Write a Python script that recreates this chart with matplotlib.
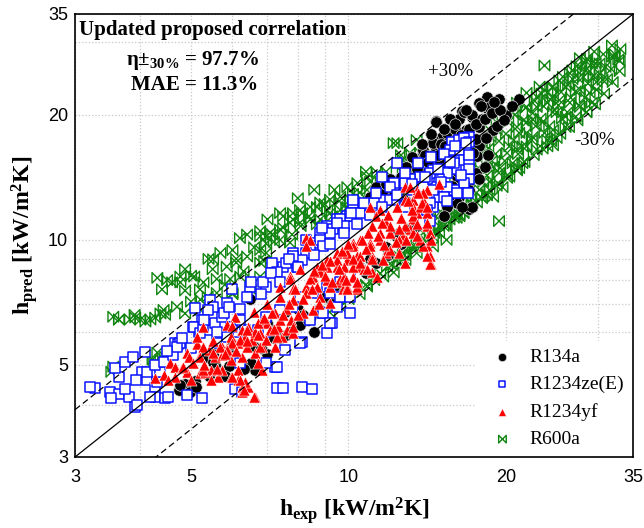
import matplotlib
matplotlib.use('Agg')
import matplotlib.pyplot as plt
from matplotlib.path import Path
from matplotlib.ticker import FixedLocator, NullFormatter

plt.rcParams.update({
    'font.family': 'Liberation Serif',
    'mathtext.fontset': 'custom',
    'mathtext.rm': 'Liberation Serif:bold',
    'mathtext.it': 'Liberation Serif:italic:bold',
    'mathtext.bf': 'Liberation Serif:bold',
})

# ---------- data: (h_exp, h_pred) in kW/m2K ----------
r134a_pts = [
    (18.4, 22.1), (19.4, 21.8), (21.2, 21.9), (17.8, 21.4), (16.5, 20.4), (14.7, 19.3),
    (18.4, 20.8), (20.0, 20.0), (16.3, 19.5), (15.6, 19.5), (17.2, 19.8), (17.8, 18.7),
    (16.8, 18.4), (15.8, 18.1), (15.1, 17.7), (14.5, 17.4), (14.7, 16.5), (13.9, 16.2),
    (13.5, 15.3), (12.9, 15.0), (13.3, 14.2), (12.5, 14.0), (12.0, 13.2), (11.6, 13.0),
    (17.0, 16.5), (17.8, 16.8), (18.4, 17.7), (18.9, 18.4), (17.6, 15.9), (16.6, 15.0),
    (16.1, 14.2), (16.9, 13.7), (16.3, 12.7), (16.1, 12.3), (17.0, 11.9), (17.2, 12.0),
    (15.4, 12.0), (18.6, 20.9), (16.6, 20.3), (17.2, 20.0), (14.7, 19.2), (15.4, 18.1),
    (16.1, 17.7), (14.5, 17.1), (13.9, 16.5), (13.7, 15.3), (14.3, 15.9), (14.9, 15.6),
    (15.2, 11.4), (11.0, 12.7), (11.3, 13.4), (12.0, 14.0), (12.7, 13.2), (10.5, 11.8),
    (10.1, 11.6), (14.0, 16.0), (15.0, 17.0), (16.0, 18.5), (17.5, 17.5), (18.0, 19.5),
    (16.5, 16.0), (15.5, 15.0), (14.0, 14.5), (15.8, 13.5), (17.5, 14.5), (18.5, 16.0),
    (13.0, 13.8), (12.2, 12.8), (11.5, 12.2), (13.5, 14.8), (14.2, 15.4), (14.8, 16.0),
    (15.3, 16.8), (15.9, 17.3), (16.4, 17.9), (17.0, 18.5), (17.5, 19.0), (18.2, 19.6),
    (18.8, 20.2), (19.5, 20.6), (20.5, 21.0), (16.0, 19.0), (16.8, 20.5), (17.9, 21.0),
    (19.0, 21.5), (15.2, 18.5), (14.4, 18.0), (13.8, 17.0), (17.3, 16.2), (18.3, 17.6),
    (19.2, 18.8), (19.8, 19.4), (16.2, 14.6), (17.0, 13.2), (17.8, 14.0), (18.2, 15.0),
    (15.6, 12.8), (16.5, 12.0), (13.2, 15.8), (12.6, 14.2), (11.8, 13.6), (12.8, 12.5),
    (4.87, 4.5), (5.05, 4.43), (5.09, 4.57), (4.75, 4.35), (5.32, 5.23), (5.56, 5.0),
    (5.9, 5.35), (6.2, 5.1), (6.63, 4.85), (6.5, 5.05), (6.63, 5.53), (7.0, 5.3),
    (7.56, 6.7), (8.08, 6.25), (8.35, 6.4), (8.6, 6.0), (4.77, 4.48), (4.98, 4.31),
    (5.12, 4.42), (5.5, 5.09), (5.9, 4.97), (7.08, 6.1), (7.4, 5.8), (7.73, 6.0),
    (8.0, 6.8), (8.45, 6.5), (6.49, 7.2), (12.5, 10.4), (13.5, 10.8), (9.0, 7.3),
    (9.5, 7.8), (10.0, 8.2), (10.5, 8.6), (11.0, 9.0), (11.8, 9.6), (12.3, 10.2),
    (13.0, 10.6), (7.0, 6.3), (6.0, 5.6), (5.5, 5.3), (5.4, 4.7), (5.8, 4.7), (6.3, 4.9),
    (6.8, 5.5), (7.2, 5.8), (7.6, 5.9), (8.2, 6.6), (8.8, 6.8), (9.3, 7.0), (9.8, 7.5),
    (10.3, 7.8), (10.8, 8.3), (11.3, 8.8), (11.9, 9.2), (12.6, 9.8),
]

r1234ze_pts = [
    (3.27, 4.4), (3.5, 4.31), (3.64, 4.25), (3.8, 4.19), (3.52, 4.17), (3.74, 4.37),
    (3.91, 3.96), (3.94, 4.0), (3.64, 4.68), (3.58, 4.92), (3.74, 5.09), (3.87, 5.23),
    (4.09, 5.38), (4.02, 4.81), (3.93, 4.6), (4.11, 4.6), (4.27, 4.4), (4.31, 4.55),
    (4.27, 4.19), (4.18, 4.19), (4.46, 4.17), (4.52, 4.19), (4.91, 4.23), (5.24, 4.17),
    (4.11, 4.81), (4.37, 4.81), (4.27, 5.0), (4.43, 5.09), (4.62, 5.29), (4.66, 5.66),
    (4.73, 5.6), (5.05, 6.18), (5.17, 6.0), (5.25, 6.43), (5.4, 6.08), (5.56, 6.32),
    (5.72, 6.53), (5.09, 6.86), (5.97, 6.18), (6.15, 6.0), (6.34, 6.08), (7.24, 4.95),
    (7.56, 5.44), (8.15, 5.69), (8.9, 6.65), (9.3, 6.32), (7.3, 4.4), (7.5, 4.4),
    (8.15, 4.43), (8.5, 4.37), (6.07, 4.37), (6.26, 4.29), (6.93, 6.0), (3.2, 4.43),
    (7.15, 8.82), (7.5, 8.62), (7.83, 9.3), (8.55, 9.85), (8.83, 10.4), (9.1, 10.8),
    (9.5, 11.2), (9.95, 11.4), (10.2, 12.3), (6.49, 7.72), (6.0, 7.6), (6.4, 7.3),
    (5.85, 7.05), (5.44, 7.18), (5.51, 6.9), (5.38, 6.78), (5.78, 6.65), (5.07, 6.18),
    (5.21, 5.97), (5.28, 6.18), (4.77, 5.66), (4.71, 5.53), (5.6, 5.66), (5.85, 5.85),
    (6.0, 6.18), (6.21, 6.43), (6.7, 6.08), (6.96, 6.53), (7.4, 6.78), (7.83, 6.9),
    (8.08, 7.3), (8.55, 7.45), (9.1, 7.72), (9.64, 7.9), (10.07, 7.72), (10.07, 8.16),
    (9.5, 6.9), (8.95, 6.65), (8.45, 6.43), (10.07, 6.65), (9.1, 5.97), (9.22, 6.32),
    (8.08, 5.66), (7.3, 4.95), (6.21, 5.04), (6.96, 5.04),
    (12.4, 15.3), (17.0, 17.7), (16.8, 16.8), (16.3, 15.9), (15.8, 16.4), (15.6, 15.0),
    (16.1, 14.8), (16.8, 15.0), (17.0, 14.0), (16.6, 13.4), (16.3, 13.0), (15.4, 14.5),
    (14.9, 14.0), (14.5, 14.75), (15.2, 13.4), (14.5, 13.4), (14.1, 12.5), (14.5, 12.0),
    (14.9, 12.7), (13.7, 14.2), (13.1, 14.0), (12.85, 13.4), (14.1, 11.8), (13.9, 11.0),
    (12.85, 12.0), (12.2, 12.5), (11.85, 12.5), (11.5, 12.5), (11.2, 12.3), (10.5, 11.6),
    (10.2, 12.5), (10.07, 11.4), (9.64, 11.2), (9.8, 10.8), (9.35, 10.6), (9.22, 10.4),
    (8.83, 10.0), (8.95, 9.64), (8.45, 9.64), (8.3, 9.3), (8.15, 8.95), (7.83, 9.12),
    (7.97, 8.62), (7.6, 8.82), (7.3, 8.35), (6.96, 7.72), (6.85, 7.9), (9.22, 7.45),
    (9.64, 7.3), (10.07, 7.3), (15.8, 17.2), (16.3, 17.4), (16.6, 17.6), (17.0, 17.2),
    (16.3, 16.5), (15.6, 16.5), (16.6, 15.6), (15.9, 15.3), (17.0, 15.6), (17.0, 14.8),
    (16.6, 13.7), (15.9, 13.2), (15.4, 13.4), (14.3, 14.5), (14.1, 14.0), (13.9, 13.4),
    (14.5, 13.2), (15.2, 12.7), (16.1, 13.0), (14.3, 12.3), (14.1, 11.8), (14.3, 11.1),
    (13.3, 13.2), (12.85, 13.7), (12.2, 13.7), (11.6, 14.2),
    (4.5, 5.4), (4.8, 5.8), (5.0, 5.5), (5.3, 6.4), (5.6, 6.0), (5.9, 6.9), (6.2, 6.8),
    (6.5, 7.9), (6.8, 7.4), (7.1, 8.3), (7.4, 7.9), (7.7, 9.0), (8.0, 8.6), (8.3, 10.0),
    (8.6, 9.2), (8.9, 10.7), (9.2, 9.8), (9.5, 11.0), (9.8, 10.4), (10.1, 11.6),
    (10.4, 10.9), (10.7, 12.3), (11.0, 11.5), (11.3, 13.0), (11.6, 12.0), (12.0, 13.4),
    (12.4, 12.8), (12.8, 14.5), (13.2, 13.6), (13.6, 15.3), (14.0, 14.2), (14.4, 15.8),
    (14.8, 14.8), (15.2, 16.1), (15.6, 15.4), (16.0, 16.8), (16.4, 14.3), (16.8, 17.1),
    (17.0, 16.0), (16.9, 13.0), (15.0, 13.8), (15.4, 12.4),
]

r1234yf_pts = [
    (4.27, 4.65), (4.43, 4.72), (4.56, 5.06), (4.66, 4.95), (4.8, 4.92), (4.92, 4.81),
    (5.21, 4.78), (5.32, 4.81), (5.47, 4.86), (4.91, 5.35), (4.95, 5.23), (5.17, 5.23),
    (5.14, 5.6), (5.4, 5.44), (5.56, 5.23), (5.72, 5.29), (5.72, 5.53), (5.87, 5.5),
    (5.97, 5.85), (5.87, 6.25), (6.07, 6.53), (6.26, 6.08), (6.42, 6.18), (6.34, 5.85),
    (6.15, 5.66), (6.55, 5.75), (6.63, 6.01), (6.84, 6.43), (7.0, 6.32), (7.24, 6.68),
    (7.33, 6.18), (7.46, 5.85), (7.63, 6.08), (7.77, 6.43), (7.24, 5.53), (6.84, 5.53),
    (6.63, 5.35), (6.26, 5.23), (5.97, 5.15), (5.97, 4.68), (6.15, 4.6), (6.26, 4.43),
    (6.42, 4.43), (6.63, 4.19), (6.26, 4.29), (6.34, 4.55), (6.15, 4.86), (5.63, 4.68),
    (5.47, 4.6), (5.72, 4.86), (5.28, 4.86), (4.66, 4.68), (4.52, 4.6), (6.84, 4.86),
    (8.3, 10.1), (8.08, 8.5), (7.73, 8.2), (8.3, 7.72), (8.55, 8.16), (8.7, 8.62),
    (9.1, 8.95), (9.5, 9.3), (9.95, 9.64), (10.2, 9.85), (9.5, 8.62), (9.95, 8.95),
    (9.64, 7.9), (9.1, 8.0), (8.83, 7.3), (9.22, 7.05), (9.77, 7.6), (10.2, 8.16),
    (10.4, 8.62), (10.4, 7.6), (7.83, 7.18), (7.6, 6.8), (7.4, 6.43), (7.15, 6.68),
    (7.08, 6.08), (6.78, 5.97), (6.7, 6.3), (6.4, 6.08), (6.21, 5.75), (6.0, 5.66),
    (5.85, 5.44), (5.69, 5.53), (5.51, 5.35), (5.28, 5.53), (5.21, 5.23), (6.4, 5.53),
    (6.78, 5.53), (6.96, 5.75), (7.3, 5.85), (7.83, 5.97), (7.83, 6.18), (8.2, 6.65),
    (8.55, 6.78), (6.7, 5.06), (6.21, 4.6), (6.3, 4.35), (6.6, 4.19), (6.0, 4.68),
    (5.28, 6.18), (5.14, 5.85), (5.05, 5.06), (4.82, 4.95),
    (12.85, 13.4), (13.5, 13.2), (14.1, 13.2), (13.9, 12.5), (13.3, 12.5), (13.3, 12.0),
    (13.5, 11.6), (14.1, 11.6), (14.1, 10.8), (14.3, 10.4), (13.3, 11.2), (13.1, 10.6),
    (12.7, 10.2), (14.1, 9.64), (14.3, 9.12), (14.4, 8.75), (12.85, 8.8), (12.5, 10.0),
    (12.0, 10.4), (11.8, 11.0), (11.5, 11.8), (11.3, 11.4), (11.1, 10.8), (11.0, 12.0),
    (11.5, 10.4), (11.0, 9.85), (10.5, 10.0), (10.2, 9.64), (10.4, 9.12), (9.95, 9.3),
    (11.1, 9.12), (11.8, 9.3), (10.7, 8.5), (11.1, 8.35), (10.2, 8.16), (9.8, 8.62),
    (9.5, 8.95), (9.1, 8.62), (8.83, 8.35), (9.64, 8.05), (9.95, 7.72), (10.4, 7.72),
    (9.22, 7.72), (8.7, 7.72), (8.45, 8.05), (8.3, 7.45), (7.73, 8.05), (7.83, 7.6),
    (7.4, 7.72), (8.45, 10.0), (8.3, 9.64), (14.3, 8.75), (14.1, 9.12), (13.9, 9.64),
    (13.7, 10.0), (13.3, 10.4), (12.85, 10.8), (12.85, 8.8), (12.5, 9.3), (12.0, 9.45),
    (11.65, 8.95), (11.35, 8.16), (10.85, 8.5), (10.4, 7.9), (9.95, 7.6), (9.8, 8.16),
    (10.2, 8.62), (10.5, 9.12), (11.0, 9.64), (11.5, 10.0), (12.0, 10.4), (12.5, 10.0),
    (13.1, 13.4), (13.9, 13.0), (12.85, 12.5), (13.7, 12.0), (13.3, 11.4), (14.1, 11.0),
    (12.5, 10.6), (13.5, 10.2), (14.9, 13.6),
    (5.0, 4.6), (5.3, 5.0), (5.6, 4.9), (5.8, 5.3), (6.1, 5.4), (6.4, 5.7), (6.7, 5.9),
    (6.9, 6.5), (7.2, 6.1), (7.5, 6.6), (7.7, 7.0), (8.0, 6.6), (8.2, 7.2), (8.5, 7.6),
    (8.8, 7.0), (9.0, 8.2), (9.3, 7.9), (9.6, 8.5), (9.9, 8.0), (10.2, 9.0), (10.5, 8.8),
    (10.8, 9.5), (11.1, 9.0), (11.4, 10.2), (11.7, 9.7), (12.0, 10.8), (12.3, 9.9),
    (12.6, 11.3), (12.9, 10.0), (13.2, 11.8), (13.5, 10.9), (13.8, 12.3), (14.1, 12.0),
    (14.4, 10.0), (7.0, 7.0), (8.6, 8.4), (9.7, 9.4), (10.9, 10.4), (11.6, 11.0),
    (12.4, 12.0), (6.0, 6.2), (5.5, 5.7), (7.9, 7.6), (8.9, 8.7), (10.0, 9.8), (6.6, 6.7),
    (7.4, 7.3), (9.2, 8.9), (10.6, 10.0), (11.9, 11.5), (13.0, 12.4), (13.6, 13.0),
]

r600a_pts = [
    # low-h_exp rows
    (3.55, 6.53), (3.64, 6.43), (3.82, 6.43), (4.0, 6.43), (4.18, 6.43), (4.37, 6.65),
    (4.43, 6.78), (4.87, 6.65), (5.21, 6.78), (3.64, 6.43), (3.91, 6.5), (4.09, 6.36),
    (4.27, 6.5), (4.46, 6.6), (3.55, 4.95), (3.52, 4.81), (4.22, 5.15), (4.31, 5.35),
    (4.25, 5.06), (4.37, 5.15), (4.46, 5.23),
    # band above the diagonal
    (4.31, 8.1), (4.5, 8.0), (4.77, 8.16), (4.87, 8.5), (4.77, 7.9), (4.87, 7.55),
    (5.07, 8.16), (5.21, 7.18), (5.38, 7.3), (5.6, 7.45), (5.6, 8.05), (5.28, 7.9),
    (5.94, 8.05), (6.0, 7.45), (6.21, 8.16), (6.78, 8.16), (5.51, 8.98), (5.69, 9.3),
    (6.0, 9.45), (5.85, 8.62), (6.1, 8.82), (6.4, 9.12), (6.78, 8.82), (6.96, 9.3),
    (6.4, 10.3), (6.78, 10.5), (6.96, 10.2), (7.15, 10.3), (7.4, 10.0), (7.73, 9.85),
    (7.4, 11.6), (7.83, 11.2), (8.08, 11.8), (8.45, 12.0), (8.83, 12.3), (8.6, 13.2),
    (10.07, 12.5), (9.64, 12.7), (9.22, 12.5), (9.1, 11.8), (8.7, 12.0), (8.15, 11.6),
    (7.83, 11.6), (7.5, 11.4), (7.4, 10.6), (7.08, 10.4), (6.78, 10.2), (6.96, 9.8),
    (6.78, 9.45), (7.73, 11.0), (8.08, 11.0), (8.45, 11.2), (8.83, 11.2), (9.22, 11.6),
    (9.64, 11.8), (9.95, 12.0), (10.5, 13.0), (10.85, 13.2), (11.35, 13.4), (11.8, 13.7),
    (11.35, 14.5), (10.85, 14.2), (10.4, 13.7), (9.95, 13.4), (12.4, 17.1), (12.7, 15.6),
    (13.1, 16.2), (13.5, 17.4), (13.7, 16.2), (13.3, 14.5), (12.7, 14.5), (12.2, 17.1),
    (4.6, 7.9), (5.0, 8.2), (5.2, 7.6), (5.5, 8.5), (5.8, 7.8), (6.1, 9.0), (6.3, 8.4),
    (6.6, 9.6), (6.9, 8.9), (7.2, 9.9), (7.5, 10.7), (7.8, 10.3), (8.1, 10.8), (8.4, 11.4),
    (8.7, 10.9), (9.0, 12.2), (9.3, 11.4), (9.6, 12.4), (9.9, 11.9), (10.2, 12.9),
    (10.6, 12.5), (11.0, 13.8), (11.4, 13.1), (11.8, 14.6), (12.2, 14.0), (12.6, 16.0),
    (13.0, 15.0), (10.8, 14.6), (9.4, 13.2), (8.0, 12.6), (7.0, 11.2), (6.2, 10.1),
    (5.4, 9.0), (4.4, 7.6), (3.9, 6.6), (4.7, 6.9), (5.0, 7.1), (6.0, 7.4), (6.5, 7.6),
    # strip along the -30% line
    (10.0, 7.2), (10.8, 7.8), (11.5, 8.3), (12.1, 8.7), (12.7, 9.2), (13.3, 9.6),
    (13.9, 10.0), (14.6, 10.5), (15.3, 10.9), (16.0, 11.5), (16.7, 12.0), (9.2, 6.7),
    (15.6, 11.2), (14.9, 10.8), (14.3, 10.4), (16.3, 11.4), (15.4, 10.0), (12.85, 8.95),
    (12.2, 8.35), (11.85, 8.62), (12.5, 9.12), (13.5, 9.64), (14.5, 9.64), (13.5, 9.3),
    (13.9, 10.4), (13.5, 9.85), (12.85, 9.45), (12.5, 8.8), (11.65, 8.16), (11.2, 8.0),
    (10.85, 7.72), (10.5, 7.4), (9.64, 6.9), (19.4, 11.1),
    # main band, high h_exp
    (27.7, 27.4), (28.5, 26.9), (29.2, 26.6), (30.2, 26.6), (31.9, 27.6), (28.9, 25.5),
    (30.2, 25.1), (31.2, 24.4), (29.8, 24.0), (28.1, 24.7), (26.8, 24.4), (26.0, 23.4),
    (27.7, 23.0), (28.9, 22.6), (29.2, 21.4), (27.7, 20.9), (26.5, 21.4), (25.3, 21.7),
    (24.6, 22.1), (24.0, 21.4), (25.0, 20.3), (26.0, 19.8), (27.2, 19.8), (28.5, 20.3),
    (26.0, 18.7), (24.6, 18.4), (23.5, 19.2), (22.5, 19.5), (21.9, 19.2), (21.2, 18.1),
    (22.5, 17.7), (24.0, 17.4), (25.0, 17.6), (24.0, 16.8), (22.9, 16.5), (21.9, 16.8),
    (21.0, 16.5), (20.1, 16.2), (20.6, 15.3), (21.5, 15.3), (21.2, 14.9), (20.3, 14.2),
    (19.4, 14.5), (18.9, 15.0), (18.4, 15.6), (17.8, 16.5), (18.0, 17.4), (18.6, 18.4),
    (19.2, 19.2), (19.7, 19.8), (20.6, 20.3), (21.0, 21.4), (21.9, 20.9), (22.9, 20.9),
    (21.9, 22.6), (22.9, 22.1), (24.0, 22.6), (23.2, 23.4), (24.6, 23.4), (25.7, 24.7),
    (26.8, 25.6), (27.7, 26.1), (23.7, 26.3), (33.0, 27.0), (32.3, 28.0),
    (18.6, 13.8), (19.7, 13.4), (21.0, 14.7), (17.8, 13.2), (18.9, 12.7), (20.1, 14.1),
    (18.0, 12.6), (19.2, 13.5), (17.6, 12.3), (18.4, 12.9), (16.6, 11.6), (17.2, 12.1),
    (16.3, 11.5), (15.4, 10.8), (16.1, 11.3), (14.9, 10.4), (14.5, 10.2), (18.4, 12.8),
    (12.8, 9.2), (12.6, 9.9), (13.4, 9.6), (13.2, 10.5), (14.0, 10.0), (14.2, 10.8),
    (13.9, 11.6), (14.6, 10.4), (14.8, 11.3), (14.5, 12.2), (15.2, 10.8), (15.0, 11.7),
    (15.4, 12.6), (15.9, 11.3), (16.1, 12.2), (15.7, 13.2), (16.0, 14.0), (16.5, 11.7),
    (16.7, 12.7), (16.3, 13.8), (16.6, 14.8), (17.2, 12.2), (17.0, 13.3), (17.4, 14.4),
    (17.1, 15.4), (17.3, 16.2), (17.9, 12.7), (18.1, 13.8), (17.7, 14.9), (18.0, 16.0),
    (18.2, 17.0), (18.6, 13.2), (18.4, 14.3), (18.8, 15.5), (18.5, 16.6), (18.7, 17.7),
    (19.3, 13.7), (19.5, 14.9), (19.1, 16.1), (19.4, 17.3), (19.2, 18.4), (20.1, 14.3),
    (19.9, 15.5), (20.3, 16.8), (20.0, 18.0), (20.2, 19.2), (20.9, 14.8), (21.1, 16.1),
    (20.7, 17.4), (21.0, 18.7), (20.8, 20.0), (21.7, 15.4), (21.5, 16.8), (21.9, 18.1),
    (21.6, 19.4), (21.8, 20.8), (22.6, 16.0), (22.4, 17.4), (22.8, 18.8), (22.5, 20.2),
    (22.7, 21.6), (23.5, 16.6), (23.7, 18.1), (23.3, 19.6), (23.6, 21.0), (23.4, 22.5),
    (24.4, 17.3), (24.2, 18.8), (24.6, 20.3), (24.3, 21.8), (24.5, 23.3), (25.4, 18.0),
    (25.6, 19.6), (25.2, 21.1), (25.5, 22.7), (25.3, 24.2), (26.4, 18.7), (26.2, 20.3),
    (26.6, 22.0), (26.3, 23.6), (26.5, 25.2), (27.4, 19.4), (27.6, 21.1), (27.2, 22.8),
    (27.5, 24.5), (27.3, 26.2), (28.5, 20.3), (28.3, 22.0), (28.7, 23.8), (28.4, 25.6),
    (28.6, 27.3), (29.6, 21.2), (29.8, 23.0), (29.4, 24.8), (29.7, 26.6), (29.5, 28.4),
    (30.8, 22.5), (30.6, 24.3), (31.0, 26.1), (30.7, 28.0), (32.0, 24.0), (31.8, 25.8),
    (32.2, 27.6), (31.9, 29.4), (33.0, 25.5), (32.8, 27.2), (33.1, 28.8), (24.6, 16.9),
]

r134a_exp, r134a_pred = zip(*r134a_pts)
r1234ze_exp, r1234ze_pred = zip(*r1234ze_pts)
r1234yf_exp, r1234yf_pred = zip(*r1234yf_pts)
r600a_exp, r600a_pred = zip(*r600a_pts)

diag = [3, 35]
band_hi = [3 * 1.3, 35 * 1.3]
band_lo = [3 * 0.7, 35 * 0.7]

# bowtie marker for R600a
bowtie = Path([(-1, 1), (1, -1), (1, 1), (-1, -1), (-1, 1)],
              [Path.MOVETO, Path.LINETO, Path.LINETO, Path.LINETO, Path.CLOSEPOLY])

fig = plt.figure(figsize=(6.44, 5.28), dpi=100)
ax = fig.add_axes([0.1165, 0.1345, 0.8665, 0.839])
ax.set_xscale('log')
ax.set_yscale('log')
ax.set_xlim(3, 35)
ax.set_ylim(3, 35)

GREEN = '#108510'
ax.scatter(r600a_exp, r600a_pred, marker=bowtie, s=58, facecolors='none',
           edgecolors=GREEN, linewidths=1.0, zorder=2, label='R600a')
ax.scatter(r134a_exp, r134a_pred, marker='o', s=68, facecolors='black',
           edgecolors='#d8d8d8', linewidths=0.5, zorder=3, label='R134a')
ax.scatter(r1234ze_exp, r1234ze_pred, marker='s', s=46, facecolors='white',
           edgecolors='#0a14ff', linewidths=1.1, zorder=4, label='R1234ze(E)')
ax.scatter(r1234yf_exp, r1234yf_pred, marker='^', s=64, facecolors='#ff0000',
           edgecolors='white', linewidths=0.4, zorder=5, label='R1234yf')

ax.plot(diag, diag, color='black', lw=0.9, zorder=6)
ax.plot(diag, band_hi, color='black', lw=0.9, ls=(0, (5, 3)), zorder=6)
ax.plot(diag, band_lo, color='black', lw=0.9, ls=(0, (5, 3)), zorder=6)

# ticks & grid
major = [3, 5, 10, 20, 35]
minor = [4, 6, 7, 8, 9, 30]
for axis in (ax.xaxis, ax.yaxis):
    axis.set_major_locator(FixedLocator(major))
    axis.set_minor_locator(FixedLocator(minor))
    axis.set_minor_formatter(NullFormatter())
ax.set_xticklabels([str(v) for v in major], fontfamily='Liberation Sans', fontsize=13)
ax.set_yticklabels([str(v) for v in major], fontfamily='Liberation Sans', fontsize=13)
ax.tick_params(which='both', length=0)
ax.tick_params(axis='x', pad=9)
ax.tick_params(axis='y', pad=5)
ax.grid(True, which='both', color='#c8c8c8', ls=':', lw=0.9, zorder=0)
ax.set_axisbelow(True)
for sp in ax.spines.values():
    sp.set_linewidth(1.2)

ax.set_xlabel(r'h$_{\mathrm{exp}}$ [kW/m$^{\mathrm{2}}$K]', fontsize=17, fontweight='bold',
              labelpad=6)
ax.set_ylabel(r'h$_{\mathrm{pred}}$ [kW/m$^{\mathrm{2}}$K]', fontsize=17, fontweight='bold',
              labelpad=6)

ax.text(0.247, 0.964, 'Updated proposed correlation', transform=ax.transAxes,
        fontsize=15, fontweight='bold', ha='center', va='center')
ax.text(0.21, 0.896, r'η±$_{\mathrm{30\%}}$ = 97.7%', transform=ax.transAxes,
        fontsize=15, fontweight='bold', ha='center', va='center')
ax.text(0.215, 0.84, 'MAE = 11.3%', transform=ax.transAxes,
        fontsize=15, fontweight='bold', ha='center', va='center')

ax.text(15.7, 25.4, '+30%', fontsize=13.5, ha='center', va='center')
ax.text(29.6, 17.4, '-30%', fontsize=13.5, ha='center', va='center')

handles, labels = ax.get_legend_handles_labels()
order = [1, 2, 3, 0]
leg = ax.legend([handles[i] for i in order], [labels[i] for i in order],
                loc='lower right', bbox_to_anchor=(1.0, 0.0), fontsize=14,
                frameon=True, framealpha=1.0, edgecolor='none', markerscale=0.72,
                handletextpad=0.4, labelspacing=0.5, borderaxespad=0.05)
leg.set_zorder(10)

fig.savefig('out.png', dpi=100, facecolor='white')
